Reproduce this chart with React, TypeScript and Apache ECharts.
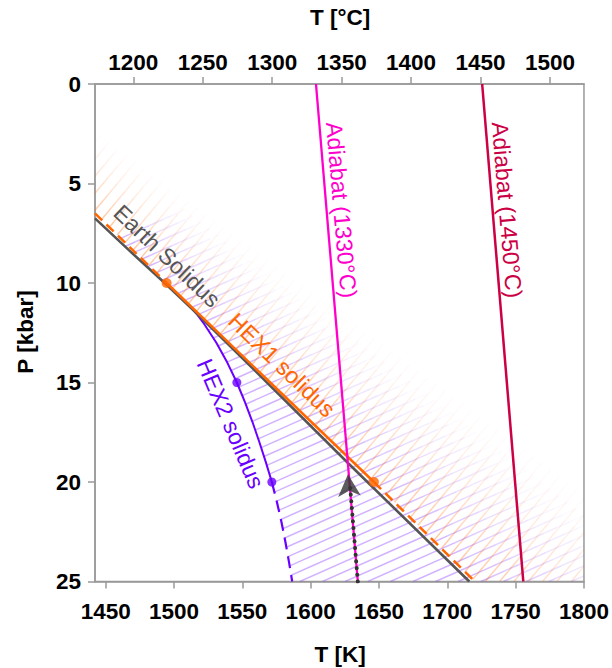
import React, { useEffect, useRef } from 'react';
import * as echarts from 'echarts';

// ---- tick labels ----
const xTicksK = [1450, 1500, 1550, 1600, 1650, 1700, 1750, 1800];
const xTicksC = [1200, 1250, 1300, 1350, 1400, 1450, 1500];
const yTicksP = [0, 5, 10, 15, 20, 25];

// ---- curves (T in K, P in kbar) ----
const earthSolidusT = [1442.2, 1467, 1494, 1516.6, 1560, 1627.5, 1716.1];
const earthSolidusP = [6.75, 8.35, 10.05, 11.52, 14.45, 19.06, 25];

const hex1T = [1442.2, 1494.6, 1570.4, 1646.3, 1720.2];
const hex1P = [6.5, 10, 15, 20, 25];
const hex1MarkerT = [1494.6, 1646.3];
const hex1MarkerP = [10, 20];

const hex2T = [1513.3, 1517.2, 1521.5, 1531, 1539, 1546, 1552, 1557.5, 1562.5, 1567.2, 1571.6, 1575.3, 1578.6, 1581.5, 1584.1, 1586.5];
const hex2P = [11.3, 11.6, 12, 13, 14, 15, 16, 17, 18, 19, 20, 21, 22, 23, 24, 25];
const hex2MarkerT = [1546, 1571.6];
const hex2MarkerP = [15, 20];

const adiabat1330T = [1603.9, 1634.5];
const adiabat1330P = [0, 25];
const adiabat1450T = [1725.5, 1755.6];
const adiabat1450P = [0, 25];

const ascentT = [1634.5, 1628.6];
const ascentP = [25, 20];
const arrowT = [1627.3];
const arrowP = [19.06];

const FONT = '"Liberation Sans", Arial, Helvetica, sans-serif';
const C_GRAY = '#555555';
const C_ORANGE = '#FF6600';
const C_PURPLE = '#6A00FF';
const C_MAGENTA = '#FF00CC';
const C_CRIMSON = '#CC0044';
const C_AXIS = '#999999';

const zip = (a: number[], b: number[]) => a.map((v, i) => [v, b[i]]);

function sub(T: number[], P: number[], pmin: number, pmax: number) {
  const out: number[][] = [];
  for (let i = 0; i < T.length; i++) if (P[i] >= pmin - 1e-9 && P[i] <= pmax + 1e-9) out.push([T[i], P[i]]);
  return out;
}

function interpT(T: number[], P: number[], p: number) {
  for (let i = 0; i < P.length - 1; i++) {
    if (p >= P[i] && p <= P[i + 1]) {
      const f = (p - P[i]) / (P[i + 1] - P[i]);
      return T[i] + f * (T[i + 1] - T[i]);
    }
  }
  return T[0];
}

type Pt = number[];

function extendPoly(poly: Pt[], extStart: number, extEnd: number): Pt[] {
  const n = poly.length;
  const a = poly[0], b = poly[1];
  const c = poly[n - 2], d = poly[n - 1];
  let ux = a[0] - b[0], uy = a[1] - b[1];
  let l = Math.hypot(ux, uy); ux /= l; uy /= l;
  let vx = d[0] - c[0], vy = d[1] - c[1];
  l = Math.hypot(vx, vy); vx /= l; vy /= l;
  const out: Pt[] = [];
  if (extStart > 0) out.push([a[0] + ux * extStart, a[1] + uy * extStart]);
  out.push(...poly);
  if (extEnd > 0) out.push([d[0] + vx * extEnd, d[1] + vy * extEnd]);
  return out;
}

function clipSeg(x0: number, y0: number, x1: number, y1: number, r: any) {
  let t0 = 0, t1 = 1;
  const dx = x1 - x0, dy = y1 - y0;
  const p = [-dx, dx, -dy, dy];
  const q = [x0 - r.x0, r.x1 - x0, y0 - r.y0, r.y1 - y0];
  for (let i = 0; i < 4; i++) {
    if (p[i] === 0) {
      if (q[i] < 0) return null;
    } else {
      const t = q[i] / p[i];
      if (p[i] < 0) { if (t > t1) return null; if (t > t0) t0 = t; }
      else { if (t < t0) return null; if (t < t1) t1 = t; }
    }
  }
  if (t1 - t0 < 1e-6) return null;
  return [x0 + t0 * dx, y0 + t0 * dy, x0 + t1 * dx, y0 + t1 * dy];
}

function intersectLine(poly: Pt[], n: Pt, c: number): Pt | null {
  for (let i = 0; i < poly.length - 1; i++) {
    const a = poly[i], b = poly[i + 1];
    const fa = n[0] * a[0] + n[1] * a[1] - c;
    const fb = n[0] * b[0] + n[1] * b[1] - c;
    if ((fa <= 0 && fb >= 0) || (fa >= 0 && fb <= 0)) {
      if (fa === fb) continue;
      const t = fa / (fa - fb);
      return [a[0] + t * (b[0] - a[0]), a[1] + t * (b[1] - a[1])];
    }
  }
  return null;
}

// pushes a hatch line that fades out from p0 along direction d over length L
function pushFade(children: any[], p0: Pt, d: Pt, L: number, rgb: string, a: number, r: any) {
  const N = 10;
  for (let k = 0; k < N; k++) {
    const s0 = (k / N) * L, s1 = ((k + 1) / N) * L;
    const alpha = a * Math.pow(1 - (k + 0.5) / N, 1.4);
    const s = clipSeg(p0[0] + d[0] * s0, p0[1] + d[1] * s0, p0[0] + d[0] * s1, p0[1] + d[1] * s1, r);
    if (!s) continue;
    children.push({
      type: 'line', shape: { x1: s[0], y1: s[1], x2: s[2], y2: s[3] },
      style: { stroke: `rgba(${rgb},${alpha.toFixed(3)})`, lineWidth: 1.5, lineCap: 'butt' },
    });
  }
}

function hatchRender(params: any, api: any) {
  const cs = params.coordSys;
  const r = { x0: cs.x, y0: cs.y, x1: cs.x + cs.width, y1: cs.y + cs.height };
  const pOf = (y: number) => ((y - cs.y) / cs.height) * 25;
  const fadeLen = (y: number) => 45 + 4.2 * Math.max(0, Math.min(40, pOf(y)));
  const children: any[] = [];

  const orange = extendPoly(zip(hex1T, hex1P).map((d) => api.coord(d)), 200, 260);

  // purple hatch
  const bT: number[] = [interpT(earthSolidusT, earthSolidusP, 7.5)];
  const bP: number[] = [7.5];
  for (let i = 0; i < earthSolidusT.length; i++) {
    if (earthSolidusP[i] > 7.5 && earthSolidusP[i] < hex2P[0]) { bT.push(earthSolidusT[i]); bP.push(earthSolidusP[i]); }
  }
  for (let i = 0; i < hex2T.length; i++) { bT.push(hex2T[i]); bP.push(hex2P[i]); }
  const purple = extendPoly(zip(bT, bP).map((d) => api.coord(d)), 0, 260);

  const ang = (24 * Math.PI) / 180;
  const dp = [Math.cos(ang), -Math.sin(ang)];
  const np = [Math.sin(ang), Math.cos(ang)];
  let cmin = Infinity, cmax = -Infinity;
  purple.forEach((p) => { const c = np[0] * p[0] + np[1] * p[1]; cmin = Math.min(cmin, c); cmax = Math.max(cmax, c); });
  const stepP = 9.2;
  for (let c = Math.ceil(cmin / stepP) * stepP; c <= cmax; c += stepP) {
    const pL = intersectLine(purple, np, c);
    const pO = intersectLine(orange, np, c);
    if (!pL || !pO) continue;
    if (pL[0] < pO[0]) {
      const s = clipSeg(pL[0], pL[1], pO[0], pO[1], r);
      if (s) children.push({ type: 'line', shape: { x1: s[0], y1: s[1], x2: s[2], y2: s[3] }, style: { stroke: 'rgba(106,0,255,0.3)', lineWidth: 1.5 } });
    }
    pushFade(children, pO, dp, fadeLen(pO[1]), '106,0,255', 0.3, r);
  }

  // orange hatch
  const ao = (50 * Math.PI) / 180;
  const dO = [Math.cos(ao), -Math.sin(ao)];
  const cum: number[] = [0];
  for (let i = 1; i < orange.length; i++) cum.push(cum[i - 1] + Math.hypot(orange[i][0] - orange[i - 1][0], orange[i][1] - orange[i - 1][1]));
  const total = cum[cum.length - 1];
  const stepO = 11;
  let seg = 0;
  for (let sArc = 0; sArc <= total; sArc += stepO) {
    while (seg < orange.length - 2 && cum[seg + 1] < sArc) seg++;
    const f = (sArc - cum[seg]) / (cum[seg + 1] - cum[seg]);
    const p0 = [orange[seg][0] + f * (orange[seg + 1][0] - orange[seg][0]), orange[seg][1] + f * (orange[seg + 1][1] - orange[seg][1])];
    pushFade(children, p0, dO, fadeLen(p0[1]), '255,102,0', 0.36, r);
  }
  return { type: 'group', children };
}

function lineSeries(data: number[][], color: string, width: number, type: any = 'solid', z = 3, extra: any = {}) {
  return {
    type: 'line', data, showSymbol: false, silent: true, z, animation: false,
    lineStyle: { color, width, type, ...extra }, itemStyle: { color },
  };
}

function text(str: string, x: number, y: number, deg: number, color: string, size = 23, bold = false) {
  return {
    type: 'text', x, y, rotation: (deg * Math.PI) / 180, silent: true, z: 100,
    style: {
      text: str, fill: color, fontSize: size, fontFamily: FONT, fontWeight: bold ? 'bold' : 'normal',
      align: 'center', verticalAlign: 'middle', textAlign: 'center', textVerticalAlign: 'middle',
    },
  };
}

function axisCommon(ticks: number[], margin: number) {
  return {
    axisLine: { show: true, onZero: false, lineStyle: { color: C_AXIS, width: 1.5 } },
    axisTick: { show: true, inside: false, length: 7, customValues: ticks, lineStyle: { color: C_AXIS, width: 1.5 } },
    axisLabel: {
      customValues: ticks, fontSize: 22.5, fontWeight: 'bold', color: '#000', fontFamily: FONT, margin,
      formatter: (v: number) => String(v),
    },
    splitLine: { show: false },
  };
}

function buildOption() {
  const hex1Low = sub(hex1T, hex1P, 0, 10);
  const hex1Mid = sub(hex1T, hex1P, 10, 20);
  const hex1High = sub(hex1T, hex1P, 20, 25);
  const hex2Solid = sub(hex2T, hex2P, 0, 20);
  const hex2Dash = sub(hex2T, hex2P, 20, 25);
  return {
    animation: false,
    backgroundColor: '#ffffff',
    grid: { left: 95, top: 84, right: 28, bottom: 86.5, show: true, borderColor: C_AXIS, borderWidth: 1.5, backgroundColor: 'transparent', containLabel: false },
    xAxis: [
      { type: 'value', position: 'bottom', min: 1442.2, max: 1800, ...axisCommon(xTicksK, 18) },
      { type: 'value', position: 'top', min: 1172.4, max: 1524.5, ...axisCommon(xTicksC, 10) },
    ],
    yAxis: [
      { type: 'value', inverse: true, min: 0, max: 25, interval: 5, ...axisCommon(yTicksP, 14) },
    ],
    series: [
      { type: 'custom', renderItem: hatchRender, data: [[1600, 10]], silent: true, z: 1, clip: true },
      lineSeries(zip(earthSolidusT, earthSolidusP), C_GRAY, 2.6, 'solid', 3),
      lineSeries(hex2Solid, C_PURPLE, 2, 'solid', 2, { cap: 'butt' }),
      lineSeries(hex2Dash, C_PURPLE, 2.2, [12, 7], 2),
      lineSeries(hex1Low, C_ORANGE, 2.5, [10, 6], 4),
      lineSeries(hex1Mid, C_ORANGE, 2.5, 'solid', 4),
      lineSeries(hex1High, C_ORANGE, 2.5, [10, 6], 4),
      lineSeries(zip(adiabat1330T, adiabat1330P), C_MAGENTA, 2.3, 'solid', 5),
      lineSeries(zip(adiabat1450T, adiabat1450P), C_CRIMSON, 2.5, 'solid', 5),
      lineSeries(zip(ascentT, ascentP), '#333333', 4, [0.1, 6.6], 6, { cap: 'round' }),
      {
        type: 'scatter', data: zip(hex1MarkerT, hex1MarkerP), symbol: 'circle', symbolSize: 10, silent: true, z: 7,
        itemStyle: { color: C_ORANGE },
      },
      {
        type: 'scatter', data: zip(hex2MarkerT, hex2MarkerP), symbol: 'circle', symbolSize: 9, silent: true, z: 7,
        itemStyle: { color: C_PURPLE },
      },
      {
        type: 'scatter', data: zip(arrowT, arrowP), symbol: 'arrow', symbolSize: [17, 22], symbolOffset: [0, '50%'],
        symbolRotate: 4, silent: true, z: 8, itemStyle: { color: '#333333' },
      },
    ],
    graphic: [
      text('Adiabat (1330°C)', 341.5, 210, -85.1, C_MAGENTA),
      text('Adiabat (1450°C)', 507, 210, -85.3, C_CRIMSON),
      text('Earth Solidus', 167, 256, -43.5, C_GRAY),
      text('HEX1 solidus', 282, 365, -44, C_ORANGE),
      text('HEX2 solidus', 230.7, 423.7, -67, C_PURPLE),
      text('T [°C]', 340, 17, 0, '#000', 22.5, true),
      text('T [K]', 340, 654, 0, '#000', 22.5, true),
      text('P [kbar]', 25, 332, 90, '#000', 22.5, true),
    ],
  };
}

export default function App() {
  const ref = useRef<HTMLDivElement>(null);
  useEffect(() => {
    if (!ref.current) return;
    const chart = echarts.init(ref.current, null, { renderer: 'svg' });
    chart.setOption(buildOption() as any);
    return () => chart.dispose();
  }, []);
  return (
    <div
      ref={ref}
      style={{ position: 'fixed', left: 0, top: 0, width: 612, height: 668, background: '#fff' }}
    />
  );
}
